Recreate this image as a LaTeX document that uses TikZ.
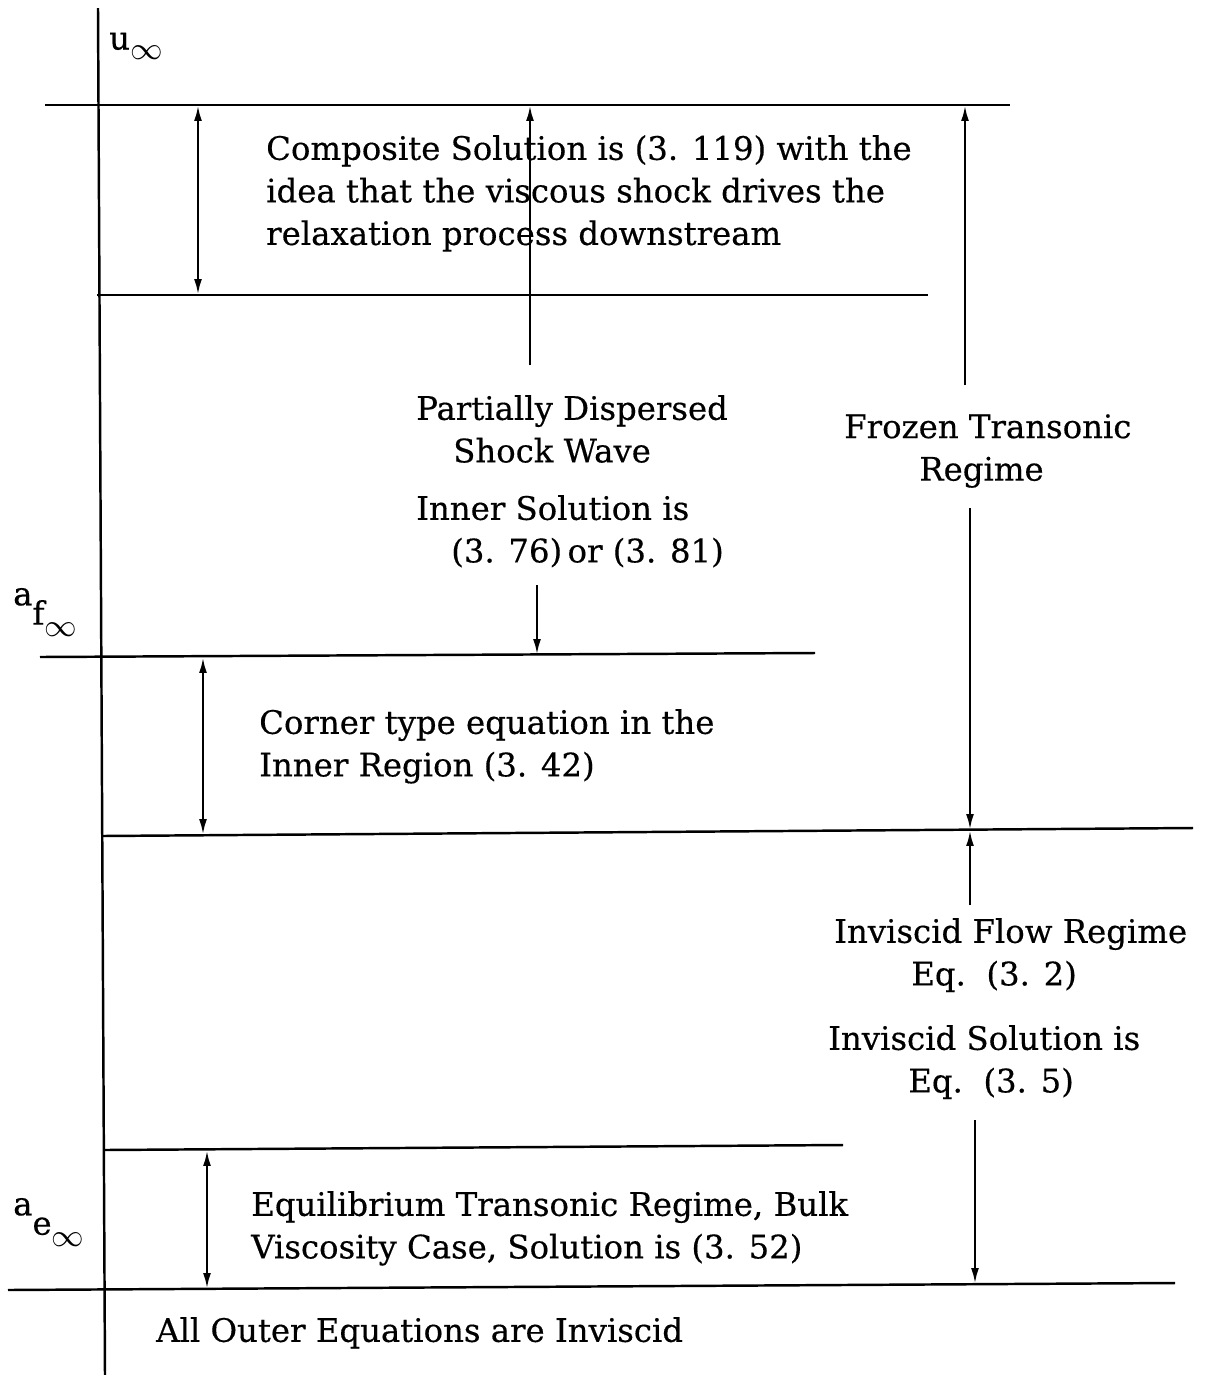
\documentclass[tikz,border=0pt]{standalone}
\usepackage{fontspec}
\setmainfont{DejaVu Serif}[FakeBold=0.4]
\usetikzlibrary{arrows.meta}
\begin{document}
\begin{tikzpicture}[x=0.01cm,y=-0.01cm,line width=0.7pt,
  txt/.style={inner sep=0pt,font=\fontsize{9.2}{12.1}\selectfont},
  up/.style={-{Latex[length=4.5pt,width=2.2pt]}},
  both/.style={{Latex[length=4.5pt,width=2.2pt]}-{Latex[length=4.5pt,width=2.2pt]}}]
\useasboundingbox (0,0) rectangle (1209,1375);
% axis and levels
\draw (98,8)--(105,1375);
\draw (45,105)--(1010,105);
\draw (97,295)--(928,295);
\draw (40,657)--(815,653);
\draw (102,836)--(1193,828);
\draw (105,1150)--(843,1145);
\draw (8,1290)--(1175,1283);
% speed labels
\node[txt,anchor=west] (uinf) at (108,46) {u\raisebox{-0.3em}{$\infty$}};
\node[txt,anchor=west] (afinf) at (12,612) {a\raisebox{-0.6em}{f\raisebox{-0.35em}{$\infty$}}};
\node[txt,anchor=west] (aeinf) at (12,1222) {a\raisebox{-0.6em}{e\raisebox{-0.35em}{$\infty$}}};
% regime texts
\node[txt,anchor=north west,align=left] (comp) at (265,134)
  {Composite Solution is (3. 119) with the\\idea that the viscous shock drives the\\relaxation process downstream};
\node[txt,anchor=north west,align=left] (pds) at (415,394)
  {Partially Dispersed\\\hspace*{0.37cm}Shock Wave};
\node[txt,anchor=north west,align=left] (inner) at (415,494)
  {Inner Solution is\\\hspace*{0.35cm}(3. 76)\,or (3. 81)};
\node[txt,anchor=north west,align=left] (frz) at (843,413)
  {Frozen Transonic\\\hspace*{0.75cm}Regime};
\node[txt,anchor=north west,align=left] (corner) at (258,708)
  {Corner type equation in the\\Inner Region (3. 42)};
\node[txt,anchor=north west,align=left] (invf) at (833,917)
  {Inviscid Flow Regime\\\hspace*{0.77cm}Eq.\ \ (3. 2)};
\node[txt,anchor=north west,align=left] (invs) at (827,1024)
  {Inviscid Solution is\\\hspace*{0.8cm}Eq.\ \ (3. 5)};
\node[txt,anchor=north west,align=left] (equi) at (250,1190)
  {Equilibrium Transonic Regime, Bulk\\Viscosity Case, Solution is (3. 52)};
\node[txt,anchor=north west] (outer) at (155,1316) {All Outer Equations are Inviscid};
% arrow ends
\coordinate (t1) at (198,105); \coordinate (b1) at (198,295);
\coordinate (t2) at (530,105); \coordinate (s2) at (530,365);
\coordinate (s3) at (537,585); \coordinate (b3) at (537,655);
\coordinate (t4) at (203,657); \coordinate (b4) at (203,835);
\coordinate (t5) at (965,105); \coordinate (s5) at (965,385);
\coordinate (s6) at (970,508); \coordinate (b6) at (970,830);
\coordinate (s7) at (970,905); \coordinate (t7) at (970,830);
\coordinate (s8) at (975,1120); \coordinate (b8) at (975,1284);
\coordinate (t9) at (207,1150); \coordinate (b9) at (207,1289);
\draw[both] (t1)--(b1);
\draw[up] (s2)--(t2);
\draw[up] (s3)--(b3);
\draw[both] (t4)--(b4);
\draw[up] (s5)--(t5);
\draw[up] (s6)--(b6);
\draw[up] (s7)--(t7);
\draw[up] (s8)--(b8);
\draw[both] (t9)--(b9);
\end{tikzpicture}
\end{document}
